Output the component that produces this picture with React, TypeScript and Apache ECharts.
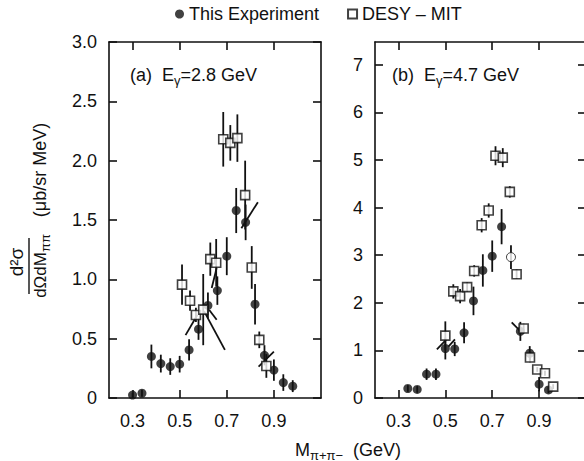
import React, { useEffect, useRef } from "react";
import * as echarts from "echarts";

// ---- data ----
const xTicks = [0.3, 0.5, 0.7, 0.9];
const yTicksA = [0, 0.5, 1.0, 1.5, 2.0, 2.5, 3.0];
const yTicksB = [0, 1, 2, 3, 4, 5, 6, 7];

// Panel (a) E_gamma = 2.8 GeV
const expAx = [0.30, 0.34, 0.38, 0.42, 0.46, 0.50, 0.54, 0.58, 0.62, 0.66, 0.70, 0.74, 0.78, 0.82, 0.86, 0.90, 0.94, 0.98];
const expAy = [0.025, 0.04, 0.35, 0.29, 0.265, 0.285, 0.405, 0.58, 0.78, 0.905, 1.195, 1.58, 1.48, 0.79, 0.36, 0.235, 0.13, 0.10];
const expAerr = [0.02, 0.03, 0.10, 0.075, 0.07, 0.07, 0.09, 0.09, 0.11, 0.12, 0.16, 0.19, 0.15, 0.17, 0.085, 0.09, 0.07, 0.05];

const desyAx = [0.51, 0.544, 0.569, 0.60, 0.63, 0.655, 0.685, 0.715, 0.745, 0.778, 0.806, 0.838, 0.868];
const desyAy = [0.955, 0.82, 0.70, 0.745, 1.17, 1.14, 2.18, 2.15, 2.19, 1.71, 1.10, 0.49, 0.27];
const desyAerr = [0.17, 0.085, 0.06, 0.3, 0.14, 0.2, 0.23, 0.15, 0.2, 0.29, 0.18, 0.07, 0.1];

const segA = [
  [0.525, 0.53, 0.575, 0.70],
  [0.604, 0.73, 0.692, 0.405],
  [0.625, 0.744, 0.657, 0.66],
  [0.636, 0.927, 0.657, 1.096],
  [0.762, 1.43, 0.832, 1.65],
  [0.835, 0.265, 0.90, 0.39],
];

// Panel (b) E_gamma = 4.7 GeV
const expBx = [0.34, 0.38, 0.42, 0.46, 0.50, 0.54, 0.58, 0.62, 0.66, 0.70, 0.74, 0.78, 0.82, 0.86, 0.90, 0.94];
const expBy = [0.20, 0.18, 0.50, 0.50, 1.04, 1.03, 1.37, 2.04, 2.68, 2.98, 3.60, 2.96, 1.40, 0.94, 0.29, 0.17];
const expBerr = [0.07, 0.07, 0.12, 0.12, 0.23, 0.15, 0.22, 0.3, 0.34, 0.33, 0.37, 0.25, 0.2, 0.15, 0.15, 0.07];
const expBHollow = [11];

const desyBx = [0.50, 0.534, 0.563, 0.593, 0.623, 0.655, 0.685, 0.714, 0.745, 0.775, 0.804, 0.834, 0.861, 0.892, 0.925, 0.96];
const desyBy = [1.31, 2.24, 2.14, 2.33, 2.67, 3.63, 3.94, 5.09, 5.05, 4.33, 2.60, 1.46, 0.85, 0.60, 0.52, 0.24];
const desyBerr = [0.3, 0.15, 0.15, 0.1, 0.12, 0.15, 0.15, 0.2, 0.2, 0.12, 0.1, 0.1, 0.1, 0.05, 0.05, 0.05];

const segB = [
  [0.464, 1.02, 0.503, 1.22],
  [0.513, 1.08, 0.541, 1.23],
  [0.783, 1.59, 0.823, 1.39],
];

const FONT = "'Liberation Sans', Arial, Helvetica, sans-serif";
const INK = "#111";

function errSeries(xs: number[], ys: number[], es: number[], idx: number) {
  return {
    type: "custom",
    xAxisIndex: idx,
    yAxisIndex: idx,
    silent: true,
    z: 1,
    data: xs.map((x, i) => [x, ys[i], es[i]]),
    encode: { x: 0, y: 1 },
    renderItem: (_p: any, api: any) => {
      const x = api.value(0), y = api.value(1), e = api.value(2);
      const a = api.coord([x, y - e]);
      const b = api.coord([x, y + e]);
      return {
        type: "line",
        shape: { x1: a[0], y1: a[1], x2: b[0], y2: b[1] },
        style: { stroke: INK, lineWidth: 1.8 },
      };
    },
  };
}

function segSeries(segs: number[][], idx: number) {
  return {
    type: "custom",
    xAxisIndex: idx,
    yAxisIndex: idx,
    silent: true,
    z: 1,
    data: segs,
    encode: { x: [0, 2], y: [1, 3] },
    renderItem: (_p: any, api: any) => {
      const a = api.coord([api.value(0), api.value(1)]);
      const b = api.coord([api.value(2), api.value(3)]);
      return {
        type: "line",
        shape: { x1: a[0], y1: a[1], x2: b[0], y2: b[1] },
        style: { stroke: INK, lineWidth: 1.8 },
      };
    },
  };
}

function xAx(grid: number, pos: string, showLabel: boolean) {
  return {
    type: "value",
    gridIndex: grid,
    position: pos,
    min: 0.2,
    max: 1.1,
    axisLine: { show: true, onZero: false, lineStyle: { color: INK, width: 1.6 } },
    axisTick: { show: true, inside: true, length: 8, customValues: xTicks, lineStyle: { color: INK, width: 1.6 } },
    axisLabel: {
      show: showLabel,
      customValues: xTicks,
      formatter: (v: number) => v.toFixed(1),
      margin: 14,
      fontSize: 18,
      color: INK,
      fontFamily: FONT,
    },
    splitLine: { show: false },
  };
}

function yAx(grid: number, pos: string, showLabel: boolean, max: number, ticks: number[], fmt: (v: number) => string) {
  return {
    type: "value",
    gridIndex: grid,
    position: pos,
    min: 0,
    max,
    axisLine: { show: true, onZero: false, lineStyle: { color: INK, width: 1.6 } },
    axisTick: { show: true, inside: true, length: 8, customValues: ticks, lineStyle: { color: INK, width: 1.6 } },
    axisLabel: {
      show: showLabel,
      customValues: ticks,
      formatter: fmt,
      margin: 12,
      fontSize: 18,
      color: INK,
      fontFamily: FONT,
    },
    splitLine: { show: false },
  };
}

const fmtA = (v: number) => (v === 0 ? "0" : v.toFixed(1));
const fmtB = (v: number) => String(Math.round(v));

const subRich = {
  s: { fontSize: 13, fontFamily: FONT, fill: INK, padding: [10, 0, 0, 0] },
};

export default function App() {
  const ref = useRef<HTMLDivElement>(null);

  useEffect(() => {
    if (!ref.current) return;
    const chart = echarts.init(ref.current, undefined, { renderer: "svg" });

    const expScatter = (xs: number[], ys: number[], idx: number, hollow: number[]) => ({
      type: "scatter",
      name: "This Experiment",
      xAxisIndex: idx,
      yAxisIndex: idx,
      symbol: "circle",
      symbolSize: 9,
      z: 3,
      itemStyle: { color: INK },
      data: xs.map((x, i) =>
        hollow.indexOf(i) >= 0
          ? { value: [x, ys[i]], itemStyle: { color: "#fff", borderColor: INK, borderWidth: 1 } }
          : [x, ys[i]]
      ),
    });

    const desyScatter = (xs: number[], ys: number[], idx: number) => ({
      type: "scatter",
      name: "DESY – MIT",
      xAxisIndex: idx,
      yAxisIndex: idx,
      symbol: "rect",
      symbolSize: 9,
      z: 4,
      itemStyle: { color: "#fff", borderColor: INK, borderWidth: 1.6 },
      data: xs.map((x, i) => [x, ys[i]]),
    });

    const option: any = {
      animation: false,
      backgroundColor: "#fff",
      textStyle: { fontFamily: FONT },
      legend: {
        left: 170,
        top: 0,
        itemWidth: 9,
        itemHeight: 9,
        itemGap: 28,
        selectedMode: false,
        textStyle: { fontSize: 18, fontFamily: FONT, color: INK },
        data: [
          { name: "This Experiment", icon: "circle" },
          { name: "DESY – MIT", icon: "rect" },
        ],
      },
      grid: [
        { left: 109, top: 42, width: 212, height: 356, containLabel: false, outerBoundsMode: "none" },
        { left: 375, top: 42, width: 211, height: 356, containLabel: false, outerBoundsMode: "none" },
      ],
      xAxis: [xAx(0, "bottom", true), xAx(0, "top", false), xAx(1, "bottom", true), xAx(1, "top", false)],
      yAxis: [
        yAx(0, "left", true, 3.0, yTicksA, fmtA),
        yAx(0, "right", false, 3.0, yTicksA, fmtA),
        yAx(1, "left", true, 7.48, yTicksB, fmtB),
        yAx(1, "right", false, 7.48, yTicksB, fmtB),
      ],
      series: [
        errSeries(expAx, expAy, expAerr, 0),
        errSeries(desyAx, desyAy, desyAerr, 0),
        segSeries(segA, 0),
        expScatter(expAx, expAy, 0, []),
        desyScatter(desyAx, desyAy, 0),
        errSeries(expBx, expBy, expBerr, 2),
        errSeries(desyBx, desyBy, desyBerr, 2),
        segSeries(segB, 2),
        expScatter(expBx, expBy, 2, expBHollow),
        desyScatter(desyBx, desyBy, 2),
      ],
      graphic: [
        {
          type: "text",
          x: 130,
          y: 75,
          style: {
            text: "(a)  E{s|γ}=2.8 GeV",
            fontSize: 18,
            fontFamily: FONT,
            fill: INK,
            align: "left",
            verticalAlign: "middle",
            rich: subRich,
          },
        },
        {
          type: "text",
          x: 392,
          y: 75,
          style: {
            text: "(b)  E{s|γ}=4.7 GeV",
            fontSize: 18,
            fontFamily: FONT,
            fill: INK,
            align: "left",
            verticalAlign: "middle",
            rich: subRich,
          },
        },
        {
          type: "text",
          x: 348,
          y: 450,
          style: {
            text: "M{s|π+π−}  (GeV)",
            fontSize: 18,
            fontFamily: FONT,
            fill: INK,
            align: "center",
            verticalAlign: "middle",
            rich: subRich,
          },
        },
        {
          type: "text",
          x: 16,
          y: 262,
          rotation: Math.PI / 2,
          style: {
            text: "d²σ",
            fontSize: 19,
            fontFamily: FONT,
            fill: INK,
            align: "center",
            verticalAlign: "middle",
          },
        },
        {
          type: "line",
          shape: { x1: 29, y1: 238, x2: 29, y2: 294 },
          style: { stroke: INK, lineWidth: 1.4 },
        },
        {
          type: "text",
          x: 40,
          y: 266,
          rotation: Math.PI / 2,
          style: {
            text: "dΩdM{s|ππ}",
            fontSize: 17,
            fontFamily: FONT,
            fill: INK,
            align: "center",
            verticalAlign: "middle",
            rich: subRich,
          },
        },
        {
          type: "text",
          x: 40,
          y: 170,
          rotation: Math.PI / 2,
          style: {
            text: "(μb/sr MeV)",
            fontSize: 18,
            fontFamily: FONT,
            fill: INK,
            align: "center",
            verticalAlign: "middle",
          },
        },
      ],
    };

    chart.setOption(option);
    return () => chart.dispose();
  }, []);

  return (
    <div
      ref={ref}
      style={{ position: "fixed", left: 0, top: 0, width: 584, height: 461, background: "#fff" }}
    />
  );
}
